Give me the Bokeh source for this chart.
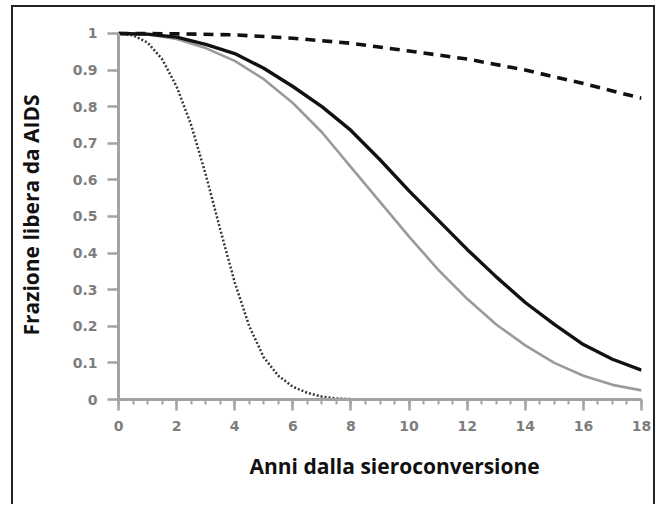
from bokeh.plotting import figure
from bokeh.models import Range1d, SingleIntervalTicker, FixedTicker, Title
from bokeh.embed import file_html
from bokeh.resources import INLINE

# ---- data ----
years = [0, 1, 2, 3, 4, 5, 6, 7, 8, 9, 10, 11, 12, 13, 14, 15, 16, 17, 18]
black_solid = [1.0, 0.998, 0.99, 0.97, 0.945, 0.905, 0.855, 0.80, 0.735, 0.655,
               0.57, 0.49, 0.41, 0.335, 0.265, 0.205, 0.15, 0.11, 0.08]
grey_solid = [1.0, 0.997, 0.985, 0.96, 0.925, 0.875, 0.81, 0.73, 0.635, 0.54,
              0.445, 0.355, 0.275, 0.205, 0.148, 0.10, 0.065, 0.04, 0.025]
dashed_years = [0, 2, 4, 6, 8, 10, 12, 14, 16, 18]
dashed_vals = [1.0, 0.999, 0.996, 0.987, 0.973, 0.952, 0.93, 0.90, 0.863, 0.823]
dotted_years = [0, 0.5, 1, 1.5, 2, 2.5, 3, 3.5, 4, 4.5, 5, 5.5, 6, 6.5, 7, 7.5,
                8, 10, 12, 14, 16, 18]
dotted_vals = [1.0, 0.995, 0.975, 0.93, 0.855, 0.75, 0.615, 0.465, 0.32, 0.20,
               0.115, 0.065, 0.035, 0.018, 0.008, 0.003, 0.001, 0, 0, 0, 0, 0]
y_ticks = [0, 0.1, 0.2, 0.3, 0.4, 0.5, 0.6, 0.7, 0.8, 0.9, 1]
y_tick_labels = ["0", "0.1", "0.2", "0.3", "0.4", "0.5", "0.6", "0.7", "0.8", "0.9", "1"]
x_label = "Anni dalla sieroconversione"
y_label = "Frazione libera da AIDS"

AXIS_C = "#a3a3a3"

p = figure(width=644, height=499, output_backend="svg", toolbar_location=None,
           x_range=Range1d(0, 18), y_range=Range1d(0, 1.008),
           min_border_left=105, min_border_right=16, min_border_top=23,
           min_border_bottom=107, margin=(5, 0, 0, 11),
           styles={"border": "2px solid #222", "border-bottom": "none"})
p.outline_line_color = None
p.grid.grid_line_color = None
p.background_fill_color = "white"
p.border_fill_color = "white"

p.line(dotted_years, dotted_vals, line_color="#383838", line_width=2.5, line_dash="2 2")
p.line(years, grey_solid, line_color="#9a9a9a", line_width=2.6)
p.line(years, black_solid, line_color="#111111", line_width=3.4)
p.line(dashed_years, dashed_vals, line_color="#111111", line_width=3.6, line_dash="10 7")

xa = p.xaxis[0]
xa.ticker = SingleIntervalTicker(interval=2, num_minor_ticks=4)
ya = p.yaxis[0]
ya.ticker = FixedTicker(ticks=y_ticks)
ya.major_label_overrides = {t: l for t, l in zip(y_ticks, y_tick_labels)}
ya.bounds = (0, 1)

for ax in (xa, ya):
    ax.axis_line_color = AXIS_C
    ax.axis_line_width = 3
    ax.major_tick_line_color = AXIS_C
    ax.major_tick_line_width = 2.5
    ax.major_tick_in = 0
    ax.major_tick_out = 11
    ax.major_label_text_font = "DejaVu Sans"
    ax.major_label_text_font_style = "bold"
    ax.major_label_text_font_size = "14px"
    ax.major_label_text_color = "#7d7d7d"
    ax.major_label_standoff = 10
    ax.axis_label_text_font = "Open Sans"
    ax.axis_label_text_font_style = "bold"
    ax.axis_label_text_font_size = "21px"
    ax.axis_label_text_color = "#111111"

xa.minor_tick_line_color = AXIS_C
xa.minor_tick_line_width = 2
xa.minor_tick_in = 0
xa.minor_tick_out = 5
ya.minor_tick_line_color = None
xa.major_label_standoff = 10

ya.axis_label = y_label
ya.axis_label_standoff = 25

# x-axis title: sits a little right of the frame centre in the reference
xt = Title(text=x_label, align="left", offset=131, standoff=33,
           text_font="Open Sans", text_font_style="bold",
           text_font_size="21px", text_color="#111111")
p.add_layout(xt, "below")

open("out.html", "w").write(file_html(p, INLINE))
